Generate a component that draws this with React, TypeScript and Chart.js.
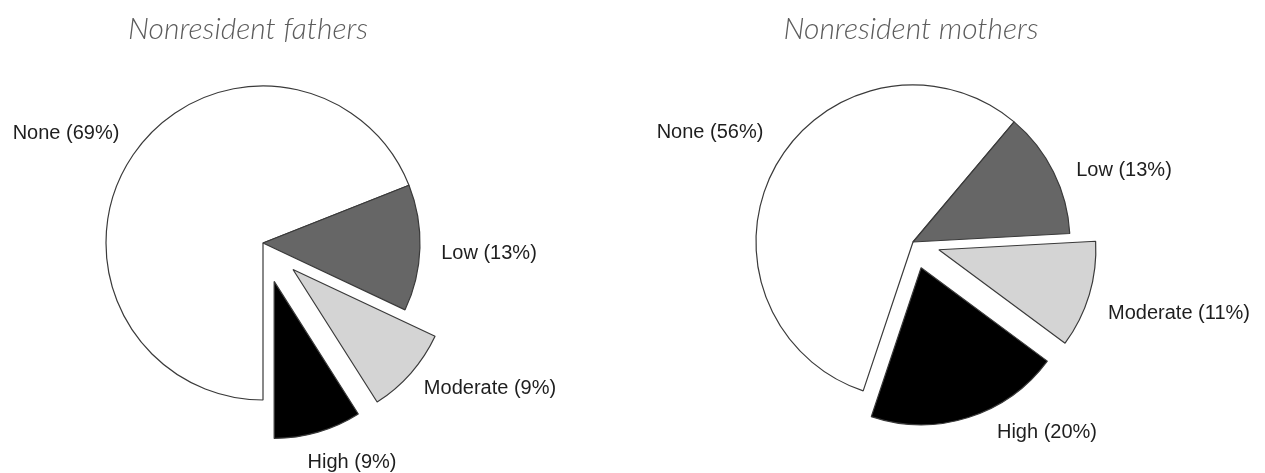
import React, { useEffect, useRef } from 'react';
import { Chart, registerables } from 'chart.js';

Chart.register(...registerables);

// ---- data ----
const CATEGORIES = ['None', 'Low', 'Moderate', 'High'];
const FATHERS = [69, 13, 9, 9];
const MOTHERS = [56, 13, 11, 20];
const TITLES = ['Nonresident fathers', 'Nonresident mothers'];

// ---- style / layout ----
const COLORS = ['#ffffff', '#666666', '#d4d4d4', '#000000'];
const FATHERS_EXPLODE = [0, 0, 40, 40];
const MOTHERS_EXPLODE = [0, 0, 27, 27];
const FATHERS_LABEL_OFFSETS = [[-197, -110], [226, 10], [227, 145], [89, 219]];
const MOTHERS_LABEL_OFFSETS = [[-203, -110], [211, -72], [266, 71], [134, 190]];
const FATHERS_TITLE_OFFSET = [-15, -214];
const MOTHERS_TITLE_OFFSET = [-2, -213];

function makePlugin(values: number[], explode: number[], labelOffsets: number[][], title: string, titleOffset: number[]) {
  return {
    id: 'pieExtras',
    beforeDatasetDraw(chart: any, args: any) {
      const ctx = chart.ctx;
      args.meta.data.forEach((arc: any, i: number) => {
        const mid = (arc.startAngle + arc.endAngle) / 2;
        const d = explode[i] || 0;
        ctx.save();
        ctx.translate(Math.cos(mid) * d, Math.sin(mid) * d);
        arc.draw(ctx);
        ctx.restore();
      });
      return false;
    },
    afterDraw(chart: any) {
      const ctx = chart.ctx;
      const arc0 = chart.getDatasetMeta(0).data[0];
      const cx = arc0.x;
      const cy = arc0.y;
      ctx.save();
      ctx.fillStyle = '#1e1e1e';
      ctx.font = '20px "Liberation Sans", Arial, sans-serif';
      ctx.textAlign = 'center';
      ctx.textBaseline = 'middle';
      values.forEach((v, i) => {
        const [dx, dy] = labelOffsets[i];
        ctx.fillText(`${CATEGORIES[i]} (${v}%)`, cx + dx, cy + dy);
      });
      ctx.fillStyle = '#5c5c5c';
      ctx.font = 'italic 300 30px Lato, "Open Sans", sans-serif';
      ctx.fillText(title, cx + titleOffset[0], cy + titleOffset[1]);
      ctx.restore();
    },
  };
}

function PieCanvas(props: { values: number[]; rotation: number; explode: number[]; labelOffsets: number[][]; title: string; titleOffset: number[]; left: number; width: number; padding: any }) {
  const ref = useRef<HTMLCanvasElement | null>(null);
  useEffect(() => {
    if (!ref.current) return;
    const chart = new Chart(ref.current, {
      type: 'pie',
      data: {
        labels: CATEGORIES,
        datasets: [
          {
            data: props.values,
            backgroundColor: COLORS,
            borderColor: '#3a3a3a',
            borderWidth: 1.2,
          },
        ],
      },
      options: {
        responsive: false,
        animation: false,
        rotation: props.rotation,
        radius: 157,
        layout: { padding: props.padding },
        plugins: {
          legend: { display: false },
          tooltip: { enabled: false },
        },
      } as any,
      plugins: [makePlugin(props.values, props.explode, props.labelOffsets, props.title, props.titleOffset)],
    });
    return () => chart.destroy();
  }, []);
  return (
    <canvas
      ref={ref}
      width={props.width}
      height={473}
      style={{ position: 'absolute', left: props.left, top: 0, width: props.width, height: 473 }}
    />
  );
}

export default function App() {
  return (
    <div style={{ position: 'fixed', left: 0, top: 0, width: 1265, height: 473, background: '#ffffff', overflow: 'hidden' }}>
      <PieCanvas
        values={FATHERS}
        rotation={180}
        explode={FATHERS_EXPLODE}
        labelOffsets={FATHERS_LABEL_OFFSETS}
        title={TITLES[0]}
        titleOffset={FATHERS_TITLE_OFFSET}
        left={0}
        width={632}
        padding={{ top: 13, right: 106, bottom: 0, left: 0 }}
      />
      <PieCanvas
        values={MOTHERS}
        rotation={198.5}
        explode={MOTHERS_EXPLODE}
        labelOffsets={MOTHERS_LABEL_OFFSETS}
        title={TITLES[1]}
        titleOffset={MOTHERS_TITLE_OFFSET}
        left={632}
        width={633}
        padding={{ top: 11, right: 71, bottom: 0, left: 0 }}
      />
    </div>
  );
}
